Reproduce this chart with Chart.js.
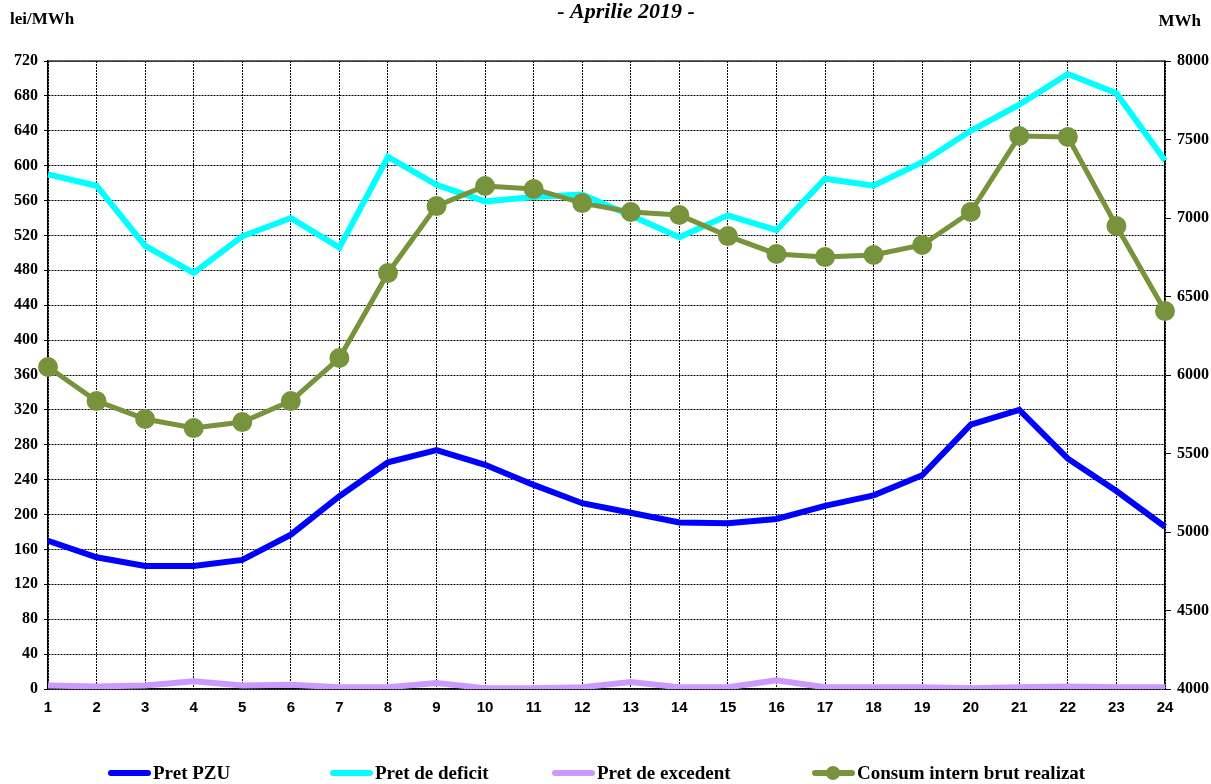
<!DOCTYPE html>
<html>
<head>
<meta charset="utf-8">
<script src="https://cdn.jsdelivr.net/npm/chart.js@4.4.1/dist/chart.umd.min.js"></script>
<style>
  body { margin: 0; background: #fff; }
  #wrap { width: 1211px; height: 784px; position: relative; }
</style>
</head>
<body>
<div id="wrap"><canvas id="chart"></canvas></div>
<script>
// Hours of the day
const hours = ['1','2','3','4','5','6','7','8','9','10','11','12',
               '13','14','15','16','17','18','19','20','21','22','23','24'];

// lei/MWh (left axis)
const pretPZU = [170, 151, 141, 141, 148, 177, 221, 260, 274, 257, 234, 213,
                 202, 191, 190, 195, 210, 222, 245, 303, 320, 264, 227, 186];
const pretDeficit = [590, 577, 508, 477, 519, 540, 506, 610, 578, 559, 564, 567,
                     543, 518, 543, 526, 585, 577, 604, 640, 670, 705, 683, 606];
const pretExcedent = [4, 3, 4, 9, 4, 5, 2, 2, 7, 1, 1, 2,
                      8, 2, 2, 10, 2, 2, 2, 1, 2, 3, 2, 2];

// MWh (right axis)
const consum = [6051, 5834, 5720, 5662, 5700, 5834, 6108, 6650, 7076, 7204, 7185, 7095,
                7038, 7019, 6885, 6771, 6751, 6764, 6828, 7038, 7522, 7516, 6949, 6407];

const seriesNames = ['Pret PZU', 'Pret de deficit', 'Pret de excedent', 'Consum intern brut realizat'];
const seriesColors = ['#0000ff', '#00ffff', '#cc99ff', '#77933c'];

const serif = "'Liberation Serif', 'Times New Roman', serif";
const sans = "'Liberation Sans', Arial, sans-serif";

// Titles, frame top line and the custom legend
const decorations = {
    id: 'decorations',
    beforeDatasetsDraw(chart) {
        const { ctx, chartArea } = chart;
        ctx.save();
        ctx.strokeStyle = '#333';
        ctx.lineWidth = 1.5;
        ctx.beginPath();
        ctx.moveTo(chartArea.left, chartArea.top);
        ctx.lineTo(chartArea.right, chartArea.top);
        ctx.stroke();
        ctx.restore();
    },
    afterDraw(chart) {
        const ctx = chart.ctx;
        ctx.save();
        ctx.fillStyle = '#000';
        ctx.textBaseline = 'middle';

        ctx.font = "italic bold 22px " + serif;
        ctx.textAlign = 'center';
        ctx.fillText('- Aprilie 2019 -', 626, 12);

        ctx.font = "bold 17px " + serif;
        ctx.textAlign = 'left';
        ctx.fillText('lei/MWh', 10, 20);
        ctx.textAlign = 'right';
        ctx.fillText('MWh', 1201, 22);

        // legend
        const legendX = [108, 330, 552, 812];
        const y = 773;
        ctx.font = "bold 19px " + serif;
        ctx.textAlign = 'left';
        seriesNames.forEach((name, i) => {
            const x = legendX[i];
            ctx.strokeStyle = seriesColors[i];
            ctx.lineWidth = 6;
            ctx.lineCap = 'round';
            ctx.beginPath();
            ctx.moveTo(x + 3, y);
            ctx.lineTo(x + 40, y);
            ctx.stroke();
            if (i === 3) {
                ctx.fillStyle = seriesColors[i];
                ctx.beginPath();
                ctx.arc(x + 21, y, 7, 0, Math.PI * 2);
                ctx.fill();
            }
            ctx.fillStyle = '#000';
            ctx.fillText(name, x + 45, y + 1);
        });
        ctx.restore();
    }
};

const lineDataset = (i, data, axis, order) => ({
    label: seriesNames[i],
    data: data,
    yAxisID: axis,
    borderColor: seriesColors[i],
    backgroundColor: seriesColors[i],
    borderWidth: 6,
    pointRadius: 0,
    tension: 0,
    fill: false,
    order: order
});

const consumDataset = Object.assign(lineDataset(3, consum, 'y2', 0), {
    borderWidth: 5,
    pointRadius: 7.5,
    pointHoverRadius: 7.5,
    pointBackgroundColor: seriesColors[3],
    pointBorderColor: seriesColors[3]
});

new Chart(document.getElementById('chart'), {
    type: 'line',
    data: {
        labels: hours,
        datasets: [
            lineDataset(0, pretPZU, 'y', 2),
            lineDataset(1, pretDeficit, 'y', 1),
            lineDataset(2, pretExcedent, 'y', 3),
            consumDataset
        ]
    },
    options: {
        responsive: true,
        maintainAspectRatio: false,
        animation: false,
        layout: { padding: { top: 61, bottom: 70, left: 0, right: 0 } },
        plugins: {
            legend: { display: false },
            title: { display: false },
            tooltip: { enabled: false }
        },
        scales: {
            x: {
                offset: false,
                grid: { color: '#000', lineWidth: 1, drawTicks: false },
                border: { display: true, color: '#000', width: 1.5, dash: [2, 1] },
                ticks: {
                    padding: 10,
                    color: '#000',
                    font: { family: sans, size: 15, weight: 'bold' },
                    maxRotation: 0,
                    autoSkip: false
                },
                afterFit(scale) { scale.height = 25; }
            },
            y: {
                position: 'left',
                min: 0,
                max: 720,
                grid: { color: '#000', lineWidth: 1, tickLength: 4 },
                border: { display: true, color: '#000', width: 1.5, dash: [2, 1] },
                ticks: {
                    stepSize: 40,
                    padding: 6,
                    color: '#000',
                    font: { family: serif, size: 16, weight: 'bold' },
                    callback: v => String(v)
                },
                afterFit(scale) { scale.width = 48; }
            },
            y2: {
                position: 'right',
                min: 4000,
                max: 8000,
                grid: { drawOnChartArea: false, color: '#000', tickLength: 6 },
                border: { display: true, color: '#000', width: 1.5 },
                ticks: {
                    stepSize: 500,
                    padding: 6,
                    color: '#000',
                    font: { family: serif, size: 16, weight: 'bold' },
                    callback: v => String(v)
                },
                afterFit(scale) { scale.width = 46; }
            }
        }
    },
    plugins: [decorations]
});
</script>
</body>
</html>
